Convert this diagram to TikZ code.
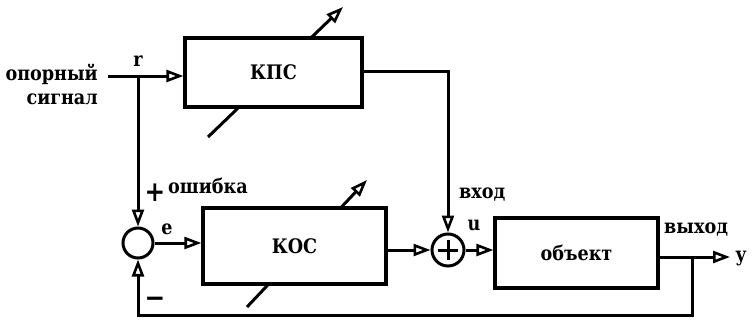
\documentclass[tikz,border=0pt]{standalone}
\usepackage{fontspec}
\setmainfont{DejaVu Serif}[FakeStretch=0.88]
\usetikzlibrary{arrows.meta}
\tikzset{
  ln/.style={line width=3pt},
  tipo/.style={-{Triangle[open,length=17pt,width=12pt,line width=2.6pt]}},
  blk/.style={draw,line width=3.2pt,fill=white,inner sep=0pt,font=\bfseries\fontsize{20}{22}\selectfont},
  sumc/.style={draw,circle,line width=3pt,fill=white,inner sep=0pt,minimum size=30pt},
  lbl/.style={font=\bfseries\fontsize{20}{24}\selectfont,inner sep=0pt},
  sgn/.style={font=\bfseries\fontsize{28}{28}\selectfont,inner sep=0pt}
}
\begin{document}
\begin{tikzpicture}[x=1pt,y=-1pt]
\useasboundingbox (0,0) rectangle (752,327);
% adjustment arrows (behind boxes)
\coordinate (a1s) at (208,137); \coordinate (a1e) at (343,7);
\coordinate (a2s) at (247,307); \coordinate (a2e) at (367,180);
\draw[ln,tipo] (a1s) -- (a1e);
\draw[ln,tipo] (a2s) -- (a2e);
% blocks
\node[blk,minimum width=177pt,minimum height=69pt] (kps) at (273.5,72.5) {КПС};
\node[blk,minimum width=183pt,minimum height=76pt] (kos) at (294.5,246) {КОС};
\node[blk,minimum width=163pt,minimum height=70pt] (obj) at (576.5,253) {объект};
\node[sumc] (s1) at (138,243) {};
\node[sumc,minimum size=32pt] (s2) at (448,250) {};
\draw[line width=3pt] (s2.center) ++(-10,0) -- ++(20,0);
\draw[line width=3pt] (s2.center) ++(0,-10) -- ++(0,20);
% labels
\node[lbl,align=right,anchor=east] (ref) at (98,84) {опорный\\сигнал};
\node[lbl] (r) at (138,61) {r};
\node[sgn] (plus) at (155,193) {+};
\node[lbl,anchor=west] (err) at (168,186) {ошибка};
\node[lbl] (e) at (167,229) {e};
\node[sgn] (minus) at (155,302) {−};
\node[lbl,anchor=west] (vhod) at (459,195) {вход};
\node[lbl] (u) at (474,225) {u};
\node[lbl,anchor=west] (vyhod) at (664,230) {выход};
\node[lbl] (y) at (741,259) {y};
% coordinates
\coordinate (rin) at (108,76);
\coordinate (jr) at (138,76);
\coordinate (kpsout) at (362,71);
\coordinate (c1) at (448,71);
\coordinate (yj) at (692,257);
\coordinate (yend) at (730,257);
\coordinate (fb1) at (692,315);
\coordinate (fb2) at (138,315);
% connectors
\draw[ln,tipo] (rin) -- (kps.west |- rin);
\draw[ln,tipo] (jr) -- (s1.north);
\draw[ln,tipo] (s1.east) -- (kos.west |- s1.east);
\draw[ln,tipo] (kos.east |- s2.west) -- (s2.west);
\draw[ln,tipo] (kpsout) -- (c1) -- (s2.north);
\draw[ln,tipo] (s2.east) -- (obj.west |- s2.east);
\draw[ln,tipo] (obj.east |- yj) -- (yend);
\draw[ln,tipo] (yj) -- (fb1) -- (fb2) -- (s1.south);
\end{tikzpicture}
\end{document}
